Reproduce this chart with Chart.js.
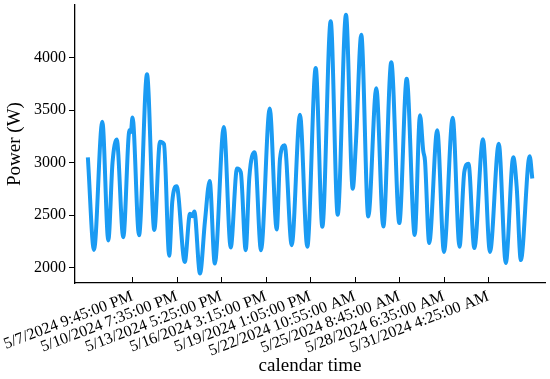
<!DOCTYPE html>
<html><head><meta charset="utf-8">
<script src="https://cdn.jsdelivr.net/npm/chart.js@4/dist/chart.umd.min.js"></script>
<style>html,body{margin:0;padding:0;background:#fff}#wrap{width:550px;height:379px}</style>
</head><body><div id="wrap"><canvas id="c" width="550" height="379"></canvas></div>
<script>
// hours since 5/5/2024 00:00
const timeHours = [0, 9.6, 22.7, 32.1, 38.7, 45.3, 55.6, 65.4, 67.4, 70.1, 80.3, 92.8, 104.3, 113.2, 119.5, 127.7, 132.5, 139.4, 152.1, 160.3, 163.9, 167.1, 176.0, 183.8, 191.2, 199.2, 213.4, 224.2, 234.1, 240.0, 247.7, 253.4, 261.8, 271.7, 285.4, 296.4, 301.6, 308.9, 319.9, 332.9, 344.4, 357.6, 368.0, 381.1, 392.1, 405.1, 415.7, 420.8, 429.1, 440.1, 452.7, 463.7, 476.2, 488.8, 500.4, 513.0, 521.3, 526.4, 529.1, 535.7, 548.3, 558.9, 572.6, 583.3, 590.8, 597.4, 606.5, 620.1, 631.1, 644.9, 655.9, 667.7, 673.0, 679.5, 693.4, 697.5];
const powerW = [3050, 2170, 3390, 2260, 3000, 3220, 2290, 3310, 3290, 3430, 2310, 3840, 2360, 3200, 3175, 2115, 2630, 2775, 2055, 2515, 2490, 2535, 1945, 2445, 2825, 2040, 3340, 2192, 2945, 2910, 2167, 2860, 3098, 2167, 3515, 2365, 3040, 3165, 2215, 3455, 2200, 3900, 2390, 4345, 2505, 4408, 2752, 3200, 4217, 2487, 3708, 2392, 3955, 2425, 3799, 2311, 3452, 3110, 3020, 2235, 3309, 2150, 3428, 2200, 2912, 2990, 2187, 3223, 2150, 3180, 2045, 3052, 2770, 2073, 3062, 2850];
const tickHours = [69.75, 139.583, 209.417, 279.25, 349.083, 418.917, 488.75, 558.583, 628.417];
const tickLabels = ['5/7/2024 9:45:00 PM', '5/10/2024 7:35:00 PM', '5/13/2024 5:25:00 PM', '5/16/2024 3:15:00 PM', '5/19/2024 1:05:00 PM', '5/22/2024 10:55:00 AM', '5/25/2024 8:45:00 AM', '5/28/2024 6:35:00 AM', '5/31/2024 4:25:00 AM'];
const yTicks = [2000, 2500, 3000, 3500, 4000];

const serif = 'Liberation Serif, Times New Roman, serif';

// inward tick marks on the x axis, placed by the x scale
const innerXTicks = {
  id: 'innerXTicks',
  afterDraw(chart) {
    const sx = chart.scales.x, ctx = chart.ctx, y0 = chart.chartArea.bottom;
    ctx.save();
    ctx.strokeStyle = '#000'; ctx.lineWidth = 1;
    ctx.beginPath();
    sx.ticks.forEach(t => {
      const px = Math.round(sx.getPixelForValue(t.value)) + 0.5;
      ctx.moveTo(px, y0); ctx.lineTo(px, y0 - 6);
    });
    ctx.stroke();
    ctx.restore();
  }
};

new Chart(document.getElementById('c').getContext('2d'), {
  type: 'line',
  data: { datasets: [{
    data: timeHours.map((h, i) => ({ x: h, y: powerW[i] })),
    borderColor: '#1a9bf3', borderWidth: 4, pointRadius: 0,
    cubicInterpolationMode: 'monotone', fill: false
  }] },
  plugins: [innerXTicks],
  options: {
    responsive: false, animation: false,
    layout: { padding: { left: 0, right: 5, top: 5, bottom: 0 } },
    plugins: { legend: { display: false }, tooltip: { enabled: false } },
    scales: {
      x: {
        type: 'linear', min: -20.18, max: 717.45,
        afterBuildTicks: s => { s.ticks = tickHours.map(v => ({ value: v })); },
        ticks: { callback: (v, i) => tickLabels[i], minRotation: 21, maxRotation: 21, autoSkip: false,
                 font: { family: serif, size: 16 }, color: '#000', padding: 4 },
        grid: { display: false, drawTicks: false },
        border: { display: true, color: '#000', width: 1.3 },
        title: { display: true, text: 'calendar time', font: { family: serif, size: 19 }, color: '#000', padding: { top: 0, bottom: 2 } },
        afterFit: s => { s.height = 96; s.paddingLeft = 0; s.paddingRight = 0; }
      },
      y: {
        min: 1855, max: 4500,
        afterBuildTicks: s => { s.ticks = yTicks.map(v => ({ value: v })); },
        ticks: { callback: v => String(v), font: { family: serif, size: 16 }, color: '#000', padding: 3 },
        grid: { display: true, color: 'rgba(0,0,0,0)', drawTicks: true, tickLength: 6, tickColor: '#000', tickWidth: 1 },
        border: { display: true, color: '#000', width: 1.3 },
        title: { display: true, text: 'Power (W)', font: { family: serif, size: 19 }, color: '#000', padding: { top: 4, bottom: 0 } },
        afterFit: s => { s.width = 75; s.paddingTop = 0; s.paddingBottom = 0; }
      }
    }
  }
});
</script></body></html>
